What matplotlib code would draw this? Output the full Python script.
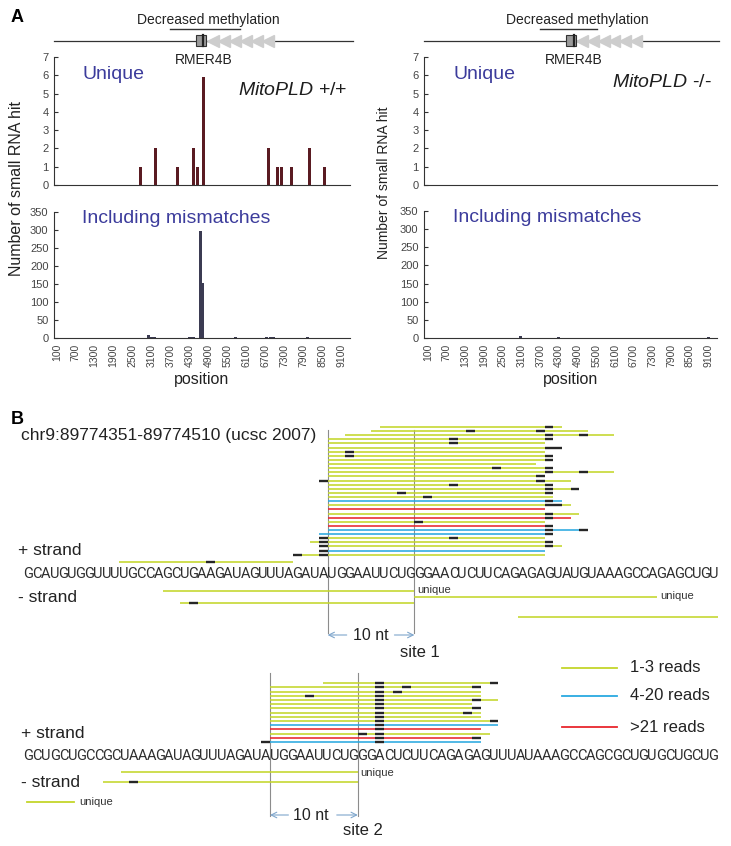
import matplotlib
matplotlib.use('Agg')
import matplotlib.pyplot as plt
from matplotlib.patches import Rectangle

plt.rcParams['font.family'] = ['Liberation Sans', 'DejaVu Sans']
plt.rcParams['mathtext.fontset'] = 'custom'
plt.rcParams['mathtext.it'] = 'Liberation Sans:italic'
plt.rcParams['mathtext.rm'] = 'Liberation Sans'

W, H = 731, 846

# ---------------- panel A data ----------------
pos_ticks = [100, 700, 1300, 1900, 2500, 3100, 3700, 4300, 4900, 5500,
             6100, 6700, 7300, 7900, 8500, 9100]

uniq_wt_pos = [2750, 3220, 3920, 4440, 4550, 4730, 6810, 7090, 7200, 7520, 8100, 8570]
uniq_wt_hits = [1, 2, 1, 2, 1, 5.9, 2, 1, 1, 1, 2, 1]
uniq_ko_pos = []
uniq_ko_hits = []

mism_wt_pos = [3000, 3110, 3190, 4290, 4380, 4430, 4650, 4730, 5760, 6750, 6860, 6970, 8040]
mism_wt_hits = [7, 3, 3, 3, 3, 2, 297, 153, 2, 2, 2, 2, 2]
mism_ko_pos = [3070, 4280, 9100]
mism_ko_hits = [6, 2, 2]

# ---------------- panel B data ----------------
seq1 = "GCAUGUGGUUUUGCCAGCUGAAGAUAGUUUAGAUAUGGAAUUCUGGGAACUCUUCAGAGAGUAUGUAAAGCCAGAGCUGU"
seq2 = "GCUGCUGCCGCUAAAGAUAGUUUAGAUAUGGAAUUCUGGGACUCUUCAGAGAGUUUAUAAAGCCAGCGCUGUGCUGCUG"
site1 = (35, 45)
site2 = (28, 38)

# reads: (start nt, end nt, read-count class, mismatch nt)
# class 1 = 1-3 reads, 2 = 4-20 reads, 3 = >21 reads
s1_plus = [
    (41, 62, 1, [60]), (40, 65, 1, [51, 59]), (37, 68, 1, [60, 64]),
    (35, 60, 1, [49, 60]), (35, 60, 1, [49]), (35, 60, 1, [60, 61]),
    (35, 60, 1, [37]), (35, 60, 1, [37, 60]), (35, 60, 1, [60]),
    (35, 59, 1, []), (35, 60, 1, [54, 60]), (35, 68, 1, [60, 64]),
    (35, 60, 1, [59]), (34, 63, 1, [34, 59]), (35, 60, 1, [49, 60]),
    (35, 64, 1, [60, 63]), (35, 61, 1, [43, 60]), (35, 61, 1, [46]),
    (35, 62, 2, [60]), (35, 63, 1, [60, 61]), (35, 60, 3, []),
    (35, 64, 1, [60]), (35, 63, 3, [60]), (35, 60, 1, [45]),
    (35, 60, 3, [60]), (35, 65, 2, [60, 64]), (34, 60, 2, [60]),
    (34, 60, 1, [34, 49]), (33, 61, 1, [34, 60]), (34, 62, 1, [34, 60]),
    (34, 60, 2, [34]), (31, 60, 1, [31, 34]),
]
s1_plus_extra = [(11, 31, 1, [21])]
s1_minus = [(16, 45, 1, []), (45, 73, 1, []), (18, 45, 1, [19]), (57, 80, 1, [])]
s1_minus_unique = [True, True, False, False]

s2_plus = [
    (34, 54, 1, [40, 53]), (28, 52, 1, [40, 43, 51]), (28, 52, 1, [40, 42]),
    (28, 52, 1, [32, 40]), (28, 54, 1, [40, 51]), (28, 51, 1, [40]),
    (28, 52, 1, [40, 51]), (28, 52, 1, [40, 50]), (28, 52, 1, [40]),
    (28, 53, 1, [40, 53]), (28, 54, 2, [40]), (28, 52, 3, [40]),
    (28, 53, 1, [38, 40]), (28, 52, 3, [40, 51]), (27, 52, 2, [27, 40]),
]
s2_minus = [(11, 38, 1, []), (9, 38, 1, [12])]
s2_minus_unique = [True, False]

legend_labels = ['1-3 reads', '4-20 reads', '>21 reads']

read_colors = {1: '#c4d62b', 2: '#2aa9e0', 3: '#e8262d'}
seq_col = '#2e2e2e'
mm_col = '#262626'
blue_txt = '#3c3c9c'
arrow_col = '#7fa6cc'


def px_rect(l, t, r, b):
    return [l / W, 1 - b / H, (r - l) / W, (b - t) / H]


fig = plt.figure(figsize=(W / 100, H / 100), dpi=100)

# ---------------- panel A ----------------
def style_bar_ax(ax, ylim, yticks, show_x):
    ax.set_xlim(ax_xlim[ax])
    ax.set_ylim(*ylim)
    ax.set_yticks(yticks)
    for s in ['top', 'right']:
        ax.spines[s].set_visible(False)
    for s in ['left', 'bottom']:
        ax.spines[s].set_color('#333333')
        ax.spines[s].set_linewidth(0.8)
    ax.tick_params(axis='y', direction='in', length=3, labelsize=8, labelcolor='#444444',
                   color='#333333', pad=4)
    if show_x:
        ax.set_xticks(pos_ticks)
        ax.set_xticklabels([str(p) for p in pos_ticks], rotation=90)
        ax.tick_params(axis='x', length=0, labelsize=7.5, labelcolor='#444444', pad=4)
        ax.set_xlabel('position', fontsize=11.5, color='#222222', labelpad=4)
    else:
        ax.set_xticks([])


ax_tl = fig.add_axes(px_rect(54, 57, 350, 185))
ax_bl = fig.add_axes(px_rect(54, 212, 350, 338))
ax_tr = fig.add_axes(px_rect(424, 57, 717, 185))
ax_br = fig.add_axes(px_rect(424, 211, 717, 338))
ax_xlim = {ax_tl: (14, 9380), ax_bl: (14, 9380), ax_tr: (-30, 9370), ax_br: (-30, 9370)}

ax_tl.bar(uniq_wt_pos, uniq_wt_hits, width=95, color='#5a1b22')
ax_tr.bar(uniq_ko_pos, uniq_ko_hits, width=95, color='#5a1b22')
ax_bl.bar(mism_wt_pos, mism_wt_hits, width=90, color='#3b3b52')
ax_br.bar(mism_ko_pos, mism_ko_hits, width=90, color='#3b3b52')

for ax in (ax_tl, ax_tr):
    style_bar_ax(ax, (0, 7), range(0, 8), False)
for ax in (ax_bl, ax_br):
    style_bar_ax(ax, (0, 350), range(0, 351, 50), True)

ax_tl.text(0.095, 0.86, 'Unique', transform=ax_tl.transAxes, fontsize=14,
           color=blue_txt, va='center')
ax_tr.text(0.10, 0.86, 'Unique', transform=ax_tr.transAxes, fontsize=14,
           color=blue_txt, va='center')
ax_tl.text(0.62, 0.74, r'$\mathit{MitoPLD}$ +/+', transform=ax_tl.transAxes,
           fontsize=14, color='#1e1e1e', va='center')
ax_tr.text(0.64, 0.80, r'$\mathit{MitoPLD}$ -/-', transform=ax_tr.transAxes,
           fontsize=14, color='#1e1e1e', va='center')
ax_bl.text(0.095, 0.95, 'Including mismatches', transform=ax_bl.transAxes,
           fontsize=14, color=blue_txt, va='center')
ax_br.text(0.10, 0.95, 'Including mismatches', transform=ax_br.transAxes,
           fontsize=14, color=blue_txt, va='center')

fig.text(17 / W, 1 - 188 / H, 'Number of small RNA hit', rotation=90,
         ha='center', va='center', fontsize=11.5, color='#222222')
fig.text(384 / W, 1 - 183 / H, 'Number of small RNA hit', rotation=90,
         ha='center', va='center', fontsize=10, color='#222222')


# gene schematic above each panel (x in position units, y in header units)
def draw_header(ax, dm_span, box_span, stripe_x, chevron_x, dm_text_x, rmer_x):
    ax.set_ylim(66, 8)
    ax.axis('off')
    ax.text(dm_text_x, 20, 'Decreased methylation', ha='center', va='center',
            fontsize=10, color='#222222')
    ax.plot(dm_span, [29, 29], color='#333333', lw=1.0)
    ax.plot([ax.get_xlim()[0], ax.get_xlim()[1] + 80], [41, 41], color='#333333',
            lw=0.9, clip_on=False)
    ax.plot(chevron_x, [41] * len(chevron_x), linestyle='none', marker='<',
            markersize=8, color='#cdcdcd', markeredgecolor='#cdcdcd', zorder=3)
    ax.add_patch(Rectangle((box_span[0], 35), box_span[1] - box_span[0], 11,
                           facecolor='#9a9a9a', edgecolor='#333333', lw=0.8, zorder=4))
    ax.plot([stripe_x, stripe_x], [35, 46], color='#222222', lw=1.6, zorder=5)
    ax.text(rmer_x, 60, 'RMER4B', ha='center', va='center', fontsize=10,
            color='#222222', clip_on=False)


hdr_l = fig.add_axes(px_rect(54, 8, 350, 66))
hdr_l.set_xlim(ax_xlim[ax_tl])
draw_header(hdr_l, [3700, 5900], [4500, 4810], 4720,
            [5030, 5380, 5730, 6080, 6430, 6780], 4900, 4740)
hdr_r = fig.add_axes(px_rect(424, 8, 717, 66))
hdr_r.set_xlim(ax_xlim[ax_tr])
draw_header(hdr_r, [3700, 5530], [4540, 4860], 4770,
            [5030, 5380, 5730, 6080, 6430, 6780], 4890, 4790)

fig.text(17 / W, 1 - 17 / H, 'A', fontsize=13, fontweight='bold', ha='center', va='center')
fig.text(17 / W, 1 - 419 / H, 'B', fontsize=13, fontweight='bold', ha='center', va='center')

# ---------------- panel B ----------------
seq_font = ['Roboto', 'Liberation Sans']


def make_site_ax(top, bottom, n_nt):
    step = (718 - 24) / n_nt
    ax = fig.add_axes(px_rect(0, top, W, bottom))
    ax.set_xlim(-24 / step, (W - 24) / step)
    ax.set_ylim(bottom, top)
    ax.axis('off')
    return ax


def draw_read(ax, read, y):
    start, end, cls, mms = read
    ax.plot([start, end], [y, y], color=read_colors[cls], lw=1.15,
            solid_capstyle='butt', zorder=2)
    for m in mms:
        ax.plot([m, m + 1], [y, y], color=mm_col, lw=1.7, solid_capstyle='butt', zorder=3)


def draw_seq(ax, seq, y):
    # one letter per nucleotide so that reads line up with the bases
    for i, ch in enumerate(seq):
        ax.text(i + 0.5, y, ch, ha='center', va='center', fontsize=10.5,
                family=seq_font, color=seq_col)


def draw_site_marks(ax, site, y0, y1, y_arrow, txt_x, arr_l, arr_r, label, label_x, label_y):
    for x in site:
        ax.plot([x, x], [y0, y1], color='#8c8c8c', lw=0.8, zorder=1)
    ax.annotate('', xy=(site[0], y_arrow), xytext=(arr_l, y_arrow),
                arrowprops=dict(arrowstyle='->', color=arrow_col, lw=0.8,
                                shrinkA=0, shrinkB=0))
    ax.annotate('', xy=(site[1], y_arrow), xytext=(arr_r, y_arrow),
                arrowprops=dict(arrowstyle='->', color=arrow_col, lw=0.8,
                                shrinkA=0, shrinkB=0))
    ax.text(txt_x, y_arrow, '10 nt', ha='center', va='center', fontsize=11.5, color='#222222')
    ax.text(label_x, label_y, label, ha='center', va='center', fontsize=12, color='#222222')


# site 1
ax1 = make_site_ax(405, 660, len(seq1))
ax1.text(-0.4, 435, 'chr9:89774351-89774510 (ucsc 2007)', ha='left', va='center',
         fontsize=12.5, color='#222222')
ax1.text(-0.7, 550, '+ strand', ha='left', va='center', fontsize=12.5, color='#222222')
ax1.text(-0.7, 597, '- strand', ha='left', va='center', fontsize=12.5, color='#222222')
draw_seq(ax1, seq1, 574)
n1 = len(s1_plus)
for i, r in enumerate(s1_plus):
    draw_read(ax1, r, 554.7 - (n1 - 1 - i) * 4.12)
for r in s1_plus_extra:
    draw_read(ax1, r, 562.3)
for r, uq, dy in zip(s1_minus, s1_minus_unique, [17, 23, 29, 43]):
    draw_read(ax1, r, 574 + dy)
    if uq:
        ax1.text(r[1] + 0.3, 574 + dy - 1.5, 'unique', ha='left', va='center',
                 fontsize=8, color='#333333')
draw_site_marks(ax1, site1, 430, 633, 635, 40, 37.2, 42.7, 'site 1', 45.6, 652)

# site 2
ax2 = make_site_ax(660, 846, len(seq2))
ax2.text(-0.3, 733, '+ strand', ha='left', va='center', fontsize=12.5, color='#222222')
ax2.text(-0.3, 782, '- strand', ha='left', va='center', fontsize=12.5, color='#222222')
draw_seq(ax2, seq2, 756)
n2 = len(s2_plus)
for i, r in enumerate(s2_plus):
    draw_read(ax2, r, 742.1 - (n2 - 1 - i) * 4.2)
for r, uq, dy in zip(s2_minus, s2_minus_unique, [15.7, 26.3]):
    draw_read(ax2, r, 756 + dy)
    if uq:
        ax2.text(r[1] + 0.3, 756 + dy + 1.5, 'unique', ha='left', va='center',
                 fontsize=8, color='#333333')
draw_site_marks(ax2, site2, 672.7, 816, 815, 32.7, 30.1, 35.6, 'site 2', 38.6, 830)

# legend
for cls, lab, y in zip([1, 2, 3], legend_labels, [668, 696, 727]):
    ax2.plot([61.2, 67.5], [y, y], color=read_colors[cls], lw=1.3)
    ax2.text(69.0, y, lab, ha='left', va='center', fontsize=12, color='#222222')
ax2.plot([0.3, 5.7], [801.7, 801.7], color=read_colors[1], lw=1.3)
ax2.text(6.3, 801.7, 'unique', ha='left', va='center', fontsize=8, color='#333333')

fig.savefig('out.png', dpi=100)
